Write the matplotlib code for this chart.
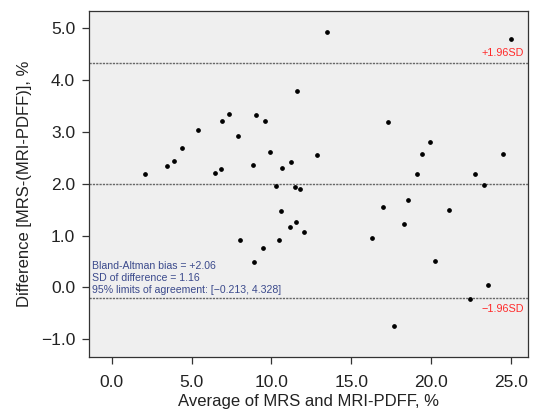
import matplotlib
matplotlib.use("Agg")
import matplotlib.pyplot as plt
import numpy as np

plt.rcParams.update({
    "font.family": ["Liberation Sans", "DejaVu Sans"],
    "font.size": 12,
    "axes.linewidth": 0.9,
})

# average of MRS and MRI-PDFF (%)
avg = [2.07, 3.45, 3.90, 4.42, 5.39, 6.47, 6.83, 6.89, 7.35, 7.89,
       8.04, 8.87, 8.94, 9.06, 9.46, 9.61, 9.90, 10.27, 10.46, 10.63,
       10.65, 11.17, 11.21, 11.47, 11.53, 11.59, 11.76, 12.03, 12.86, 13.47,
       16.29, 16.98, 17.31, 17.65, 18.33, 18.56, 19.11, 19.40, 19.92, 20.26,
       21.15, 22.41, 22.72, 23.31, 23.56, 24.52, 25.02]
# difference MRS - MRI-PDFF (%)
diff = [2.18, 2.34, 2.43, 2.68, 3.03, 2.21, 2.28, 3.20, 3.34, 2.91,
        0.91, 2.35, 0.48, 3.33, 0.75, 3.21, 2.60, 1.95, 0.91, 1.47,
        2.31, 1.16, 2.41, 1.94, 1.26, 3.79, 1.90, 1.07, 2.55, 4.92,
        0.95, 1.54, 3.19, -0.75, 1.23, 1.69, 2.18, 2.57, 2.81, 0.51,
        1.50, -0.22, 2.18, 1.97, 0.05, 2.57, 4.78]

bias_line = 2.0
upper = 4.328
lower = -0.213
info = ["Bland-Altman bias = +2.06",
        "SD of difference = 1.16",
        "95% limits of agreement: [\u22120.213, 4.328]"]

xticks = [0, 5, 10, 15, 20, 25]
yticks = [-1, 0, 1, 2, 3, 4, 5]

fig = plt.figure(figsize=(5.33, 4.16), dpi=100)
ax = fig.add_axes([0.167, 0.142, 0.824, 0.832])
ax.set_facecolor("#efefef")

for yv in (upper, bias_line, lower):
    ax.axhline(yv, color="#666666", lw=1.0, ls=(0, (1.6, 0.8)), zorder=1)

ax.plot(avg, diff, "o", color="black", ms=2.4, zorder=3)

ax.text(25.8, upper + 0.1, "+1.96SD", color="#ff2a2a", fontsize=7.8,
        ha="right", va="bottom")
ax.text(25.8, lower - 0.1, "\u22121.96SD", color="#ff2a2a", fontsize=7.8,
        ha="right", va="top")
ax.text(-1.25, lower + 0.06, "\n".join(info), color="#3b4a8c", fontsize=7.6,
        ha="left", va="bottom", linespacing=1.3)

ax.set_xlim(-1.42, 26.08)
ax.set_ylim(-1.34, 5.33)
ax.set_xticks(xticks)
ax.set_xticklabels([f"{v:.1f}" for v in xticks])
ax.set_yticks(yticks)
ax.set_yticklabels([f"{v:.1f}".replace("-", "\u2212") for v in yticks])
ax.tick_params(direction="out", length=5, width=0.9, color="#333333",
               labelsize=12.5, labelcolor="#222222")
ax.tick_params(axis="x", pad=8)
ax.tick_params(axis="y", pad=5)
for sp in ax.spines.values():
    sp.set_color("#333333")

ax.set_xlabel("Average of MRS and MRI-PDFF, %", fontsize=12, color="#222222",
              labelpad=3)
ax.set_ylabel("Difference [MRS-(MRI-PDFF)], %", fontsize=12, color="#222222",
              labelpad=6)

fig.savefig("out.png", dpi=100)
